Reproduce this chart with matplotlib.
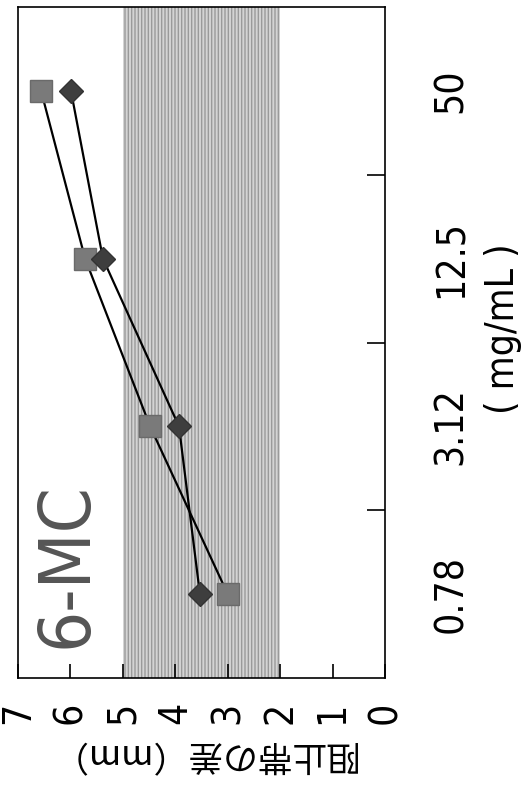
import matplotlib
matplotlib.use("Agg")
import matplotlib.pyplot as plt
from matplotlib import font_manager as fm

plt.rcParams['font.family'] = ['Noto Sans CJK JP', 'DejaVu Sans']

# concentrations (category axis, drawn vertically)
conc_labels = ["0.78", "3.12", "12.5", "50"]
# inhibition zone difference (mm)
diamond_vals = [3.53, 3.93, 5.38, 5.99]
square_vals = [3.0, 4.48, 5.72, 6.56]
band_range = (2, 5)
value_ticks = [0, 1, 2, 3, 4, 5, 6, 7]

# narrow latin font for the numbers, if one is around
fonts = [(f.name, f.stretch) for f in fm.fontManager.ttflist]
if ('DejaVu Sans', 'condensed') in fonts or ('DejaVu Sans', 'semi-condensed') in fonts:
    num_font = dict(family='DejaVu Sans', stretch='condensed')
    num_size = 28
elif any(n == 'Liberation Sans Narrow' for n, _ in fonts):
    num_font = dict(family='Liberation Sans Narrow')
    num_size = 29
else:
    num_font = dict(family='DejaVu Sans')
    num_size = 25

fig = plt.figure(figsize=(5.26, 7.85), dpi=100)
ax = fig.add_axes([18 / 526, 1 - 678 / 785, 367 / 526, 671 / 785])

pos = list(range(len(conc_labels)))

# chart is shown rotated 90 degrees: value axis horizontal, 0 at right
ax.axvspan(band_range[0], band_range[1], facecolor='#d4d4d4', edgecolor='#9a9a9a',
           hatch='|||||', linewidth=0, zorder=0)
ax.plot(square_vals, pos, color='black', lw=1.6, marker='s', ms=16,
        mfc='#7a7a7a', mec='#6a6a6a', zorder=3)
ax.plot(diamond_vals, pos, color='black', lw=1.6, marker='D', ms=12.5,
        mfc='#3e3e3e', mec='#333333', zorder=4)

ax.set_xlim(7, 0)
ax.set_ylim(-0.5, len(conc_labels) - 0.5)

ax.set_xticks(value_ticks)
ax.set_xticklabels([str(v) for v in value_ticks], rotation=90, fontsize=num_size, **num_font)
ax.tick_params(axis='x', direction='in', length=10, width=1.2, pad=17)

ax.yaxis.tick_right()
ax.set_yticks(pos)
ax.set_yticklabels(conc_labels, rotation=90, fontsize=num_size, va='center', **num_font)
ax.set_yticks([p + 0.5 for p in pos[:-1]], minor=True)
ax.tick_params(axis='y', which='major', length=0, pad=34)
ax.tick_params(axis='y', which='minor', direction='in', length=13, width=1.2)

ax.yaxis.set_label_position('right')
ax.set_ylabel('( mg/mL )', rotation=90, fontsize=num_size, **num_font)
ax.yaxis.set_label_coords(1.27, 0.52)
ax.set_xlabel('阻止帯の差（mm）', rotation=180, fontsize=25, labelpad=8)

for s in ax.spines.values():
    s.set_linewidth(1.2)

ax.text(0.134, 0.168, '6-MC', transform=ax.transAxes, rotation=90,
        fontsize=52, color='#555555', ha='center', va='center', **num_font)

fig.savefig('out.png', dpi=100)
